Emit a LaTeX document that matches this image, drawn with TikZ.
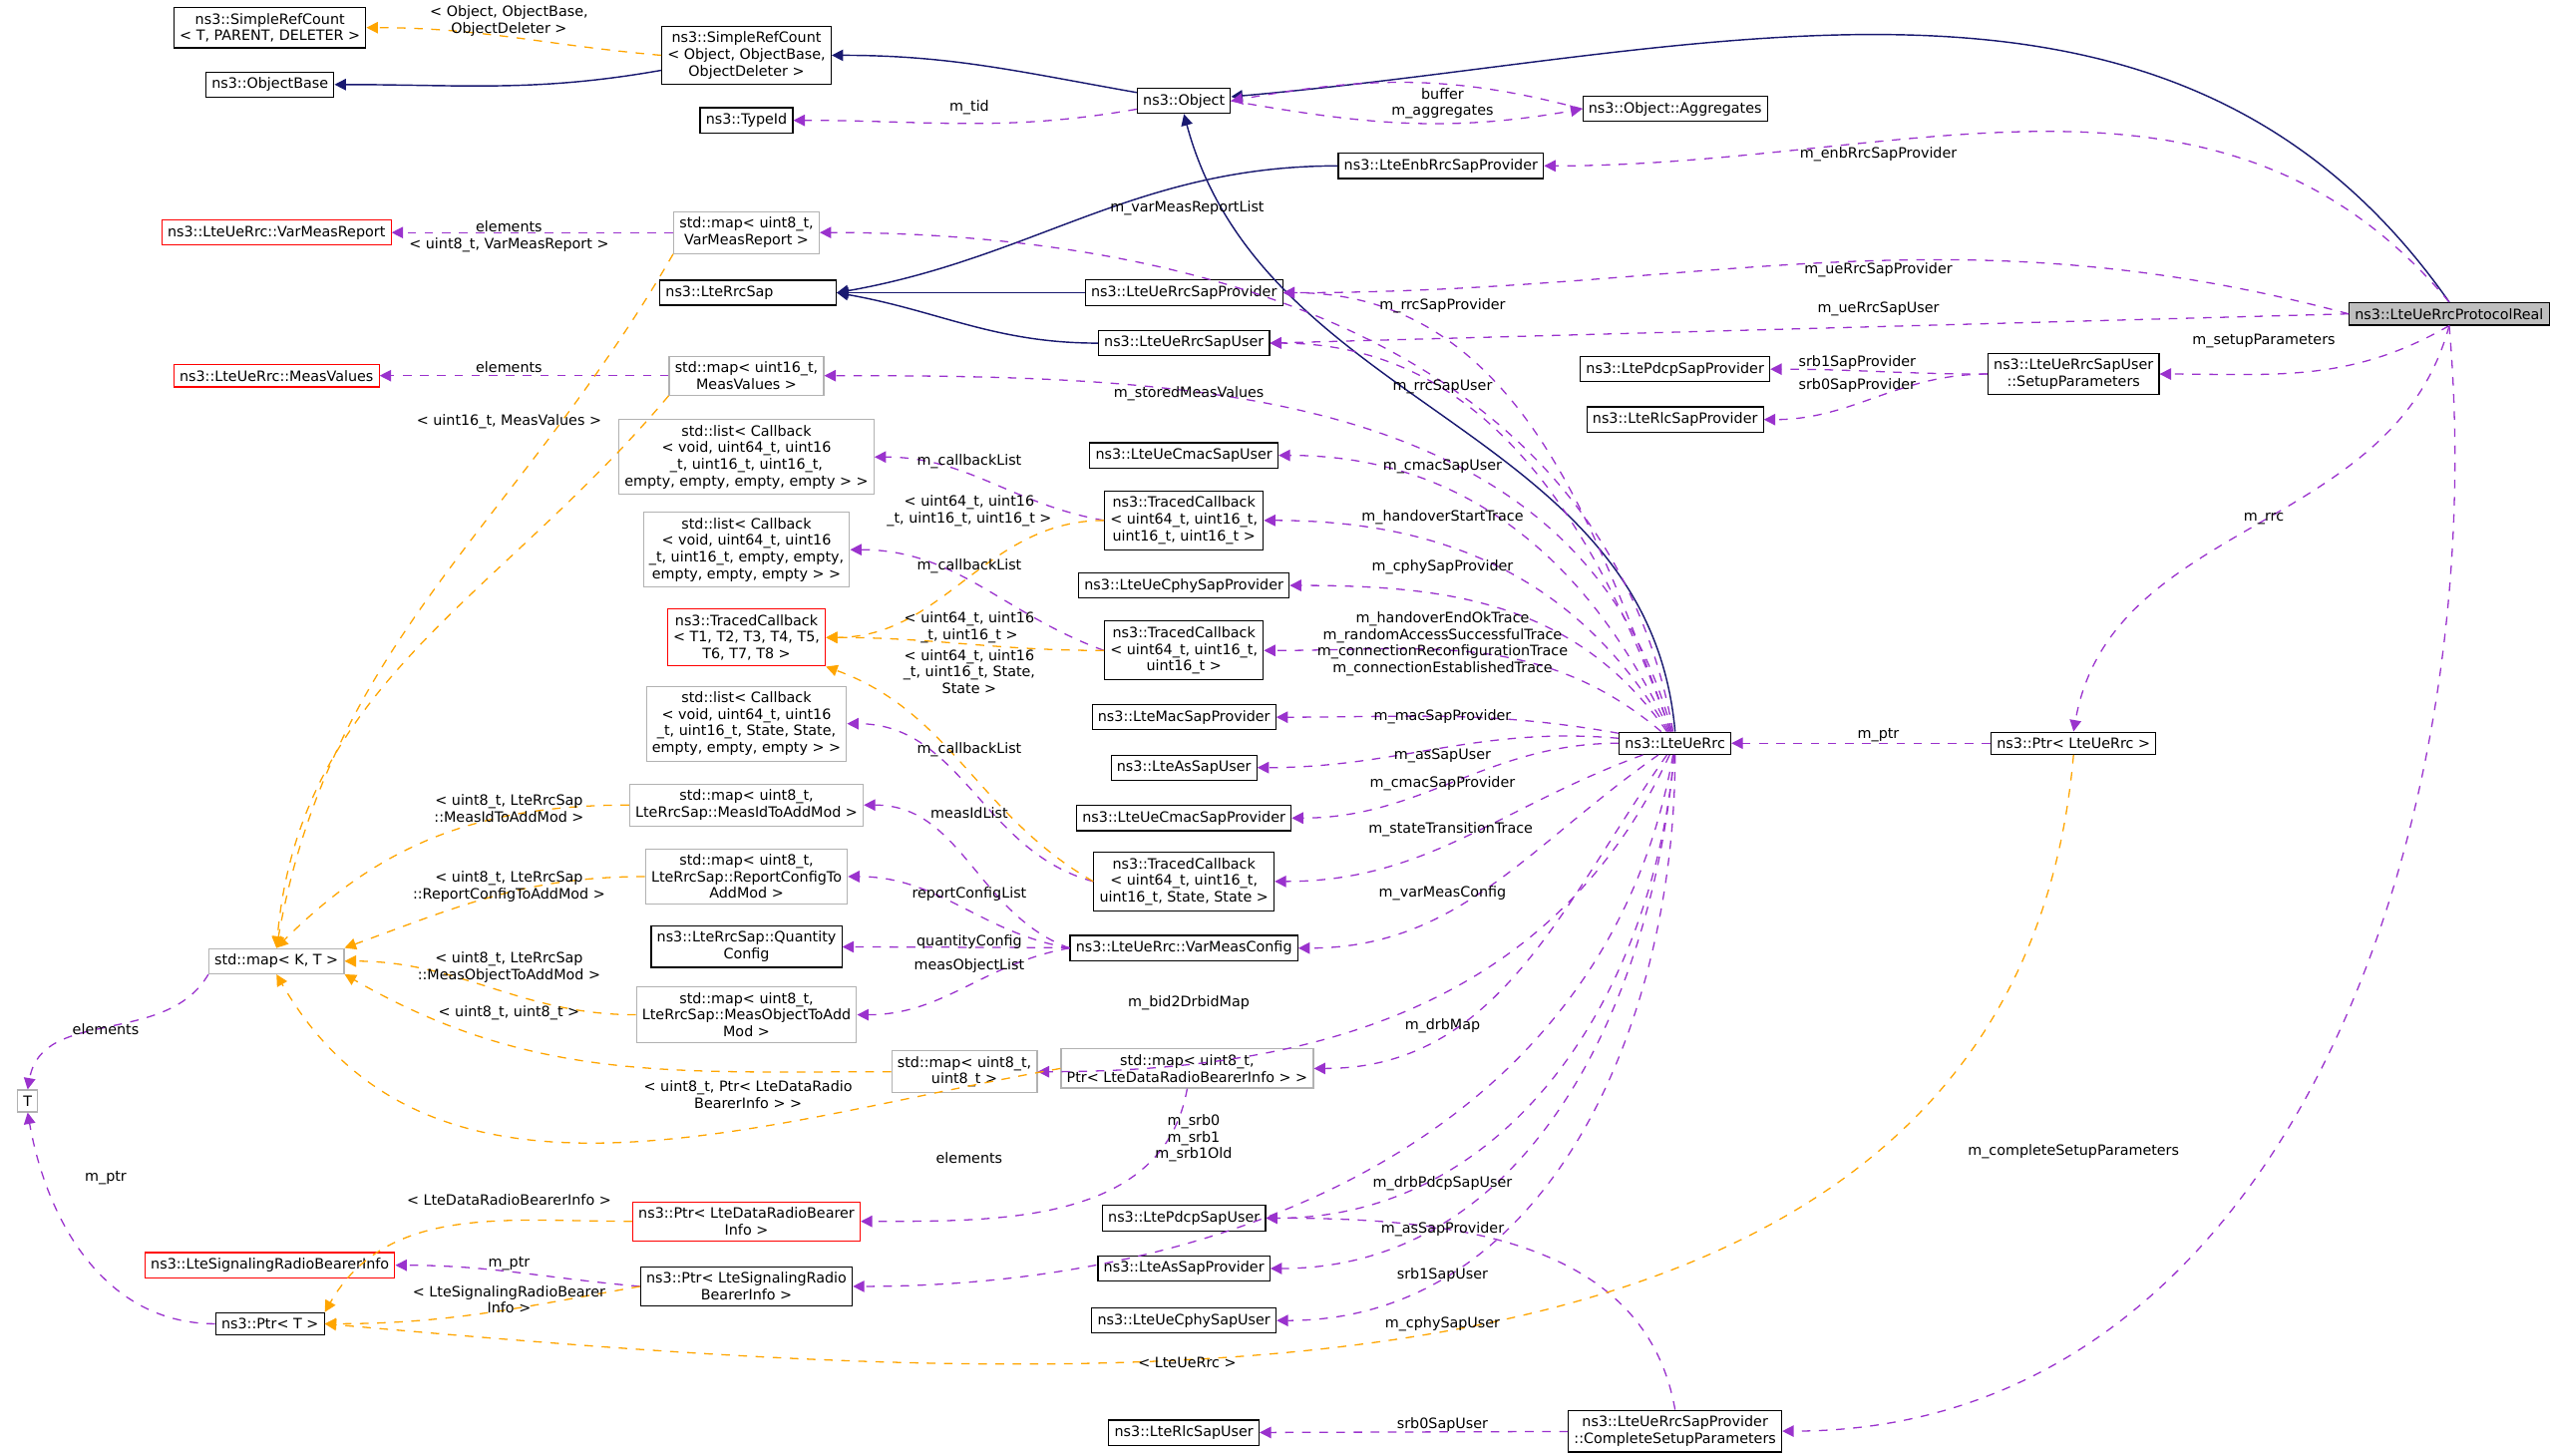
\documentclass[tikz,border=0pt]{standalone}
\usepackage{fontspec}
\setmainfont{DejaVu Sans}
\usetikzlibrary{arrows.meta}
\definecolor{inhcol}{HTML}{191970}
\definecolor{memcol}{HTML}{9A32CD}
\definecolor{tplcol}{HTML}{FFA500}
\tikzset{
  box/.style={draw=black, fill=white, inner sep=2pt, align=center, font=\fontsize{5}{5.8}\selectfont},
  gbox/.style={box, draw=black!30},
  rbox/.style={box, draw=red},
  lbl/.style={align=center, inner sep=0pt, font=\fontsize{5}{5.8}\selectfont},
  inh/.style={draw=inhcol, line width=0.5pt, -{Triangle[length=4pt,width=4pt]}},
  mem/.style={draw=memcol, dashed, line width=0.45pt, -{Triangle[length=4pt,width=4pt]}},
  tpl/.style={draw=tplcol, dashed, line width=0.45pt, -{Triangle[length=4pt,width=4pt]}},
}
\begin{document}
\begin{tikzpicture}[x=0.02cm, y=-0.02cm]
\useasboundingbox (0,0) rectangle (1568,895);

% classes
\node[box] (sref3) at (166,17) {ns3::SimpleRefCount\\< T, PARENT, DELETER >};
\node[box] (objbase) at (166,52) {ns3::ObjectBase};
\node[box] (sref) at (459,34) {ns3::SimpleRefCount\\< Object, ObjectBase,\\ ObjectDeleter >};
\node[box] (typeid) at (459,74) {ns3::TypeId};
\node[box] (object) at (728,62) {ns3::Object};
\node[box] (aggr) at (1030,67) {ns3::Object::Aggregates};
\node[box] (enbprov) at (886,102) {ns3::LteEnbRrcSapProvider};
\node[gbox] (mapvar) at (459,143) {std::map< uint8\_t,\\ VarMeasReport >};
\node[rbox] (varreport) at (170,143) {ns3::LteUeRrc::VarMeasReport};
\node[box] (rrcsap) at (460,180) {ns3::LteRrcSap\hspace{4em}};
\node[box] (ueprov) at (728,180) {ns3::LteUeRrcSapProvider};
\node[box] (ueuser) at (728,211) {ns3::LteUeRrcSapUser};
\node[box, fill=black!25] (real) at (1506,193) {ns3::LteUeRrcProtocolReal};
\node[box] (pdcpprov) at (1030,227) {ns3::LtePdcpSapProvider};
\node[box] (rlcprov) at (1030,258) {ns3::LteRlcSapProvider};
\node[box] (setup) at (1275,230) {ns3::LteUeRrcSapUser\\ ::SetupParameters};
\node[rbox] (measvalues) at (170,231) {ns3::LteUeRrc::MeasValues};
\node[gbox] (mapmv) at (459,231) {std::map< uint16\_t,\\ MeasValues >};
\node[gbox] (list1) at (459,281) {std::list< Callback\\< void, uint64\_t, uint16\\ \_t, uint16\_t, uint16\_t,\\ empty, empty, empty, empty > >};
\node[box] (cmacuser) at (728,280) {ns3::LteUeCmacSapUser};
\node[box] (tc1) at (728,320) {ns3::TracedCallback\\< uint64\_t, uint16\_t,\\ uint16\_t, uint16\_t >};
\node[gbox] (list2) at (459,338) {std::list< Callback\\< void, uint64\_t, uint16\\ \_t, uint16\_t, empty, empty,\\ empty, empty, empty > >};
\node[box] (cphyprov) at (728,360) {ns3::LteUeCphySapProvider};
\node[rbox] (tcT) at (459,392) {ns3::TracedCallback\\< T1, T2, T3, T4, T5,\\ T6, T7, T8 >};
\node[box] (tc2) at (728,400) {ns3::TracedCallback\\< uint64\_t, uint16\_t,\\ uint16\_t >};
\node[box] (macprov) at (728,441) {ns3::LteMacSapProvider};
\node[gbox] (list3) at (459,445) {std::list< Callback\\< void, uint64\_t, uint16\\ \_t, uint16\_t, State, State,\\ empty, empty, empty > >};
\node[box] (asuser) at (728,472) {ns3::LteAsSapUser};
\node[box] (uerrc) at (1030,457) {ns3::LteUeRrc};
\node[box] (ptrrrc) at (1275,457) {ns3::Ptr< LteUeRrc >};
\node[gbox] (mapmid) at (459,495) {std::map< uint8\_t,\\ LteRrcSap::MeasIdToAddMod >};
\node[box] (cmacprov) at (728,503) {ns3::LteUeCmacSapProvider};
\node[gbox] (maprc) at (459,539) {std::map< uint8\_t,\\ LteRrcSap::ReportConfigTo\\ AddMod >};
\node[box] (tc3) at (728,542) {ns3::TracedCallback\\< uint64\_t, uint16\_t,\\ uint16\_t, State, State >};
\node[box] (quantity) at (459,582) {ns3::LteRrcSap::Quantity\\ Config};
\node[box] (varconfig) at (728,583) {ns3::LteUeRrc::VarMeasConfig};
\node[gbox] (mapkt) at (170,591) {std::map< K, T >};
\node[gbox] (mapmo) at (459,624) {std::map< uint8\_t,\\ LteRrcSap::MeasObjectToAdd\\ Mod >};
\node[gbox] (mapbid) at (593,659) {std::map< uint8\_t,\\ uint8\_t >};
\node[gbox] (mapdrb) at (730,657) {std::map< uint8\_t,\\ Ptr< LteDataRadioBearerInfo > >};
\node[gbox] (T) at (17,677) {T};
\node[rbox] (ptrdrb) at (459,751) {ns3::Ptr< LteDataRadioBearer\\ Info >};
\node[rbox] (sigrbi) at (166,778) {ns3::LteSignalingRadioBearerInfo};
\node[box] (ptrsig) at (459,791) {ns3::Ptr< LteSignalingRadio\\ BearerInfo >};
\node[box] (ptrT) at (166,814) {ns3::Ptr< T >};
\node[box] (pdcpuser) at (728,749) {ns3::LtePdcpSapUser};
\node[box] (asprov) at (728,780) {ns3::LteAsSapProvider};
\node[box] (cphyuser) at (728,812) {ns3::LteUeCphySapUser};
\node[box] (rlcuser) at (728,881) {ns3::LteRlcSapUser};
\node[box] (complete) at (1030,880) {ns3::LteUeRrcSapProvider\\ ::CompleteSetupParameters};

% inheritance
\draw[inh] (sref) to[out=190,in=0] (objbase);
\draw[inh] (object) to[out=170,in=0] (sref);
\draw[inh] (real.north) to[out=125,in=5] (object);
\draw[inh] (uerrc.north) to[out=95,in=-75] (object.south);
\draw[inh] (enbprov.west) to[out=180,in=10] (rrcsap.east);
\draw[inh] (ueprov) -- (rrcsap);
\draw[inh] (ueuser.west) to[out=180,in=-10] (rrcsap.east);

% members of ns3::LteUeRrcProtocolReal and friends
\draw[mem] (object) to[out=190,in=0] (typeid);
\draw[mem] (aggr.west) to[out=165,in=10] (object.east);
\draw[mem] (object.east) to[out=-10,in=190] (aggr.west);
\draw[mem] (real.north) to[out=130,in=0] (enbprov);
\draw[mem] (real.west) to[out=165,in=0] (ueprov);
\draw[mem] (real.west) -- (ueuser.east);
\draw[mem] (real.south) to[out=-150,in=0] (setup);
\draw[mem] (setup) to[out=180,in=0] (pdcpprov);
\draw[mem] (setup) to[out=180,in=0] (rlcprov);
\draw[mem] (real.south) to[out=-105,in=80] (ptrrrc.north);
\draw[mem] (real.south) to[out=-85,in=0] (complete.east);
\draw[mem] (ptrrrc) -- (uerrc);
\draw[mem] (complete.north) to[out=100,in=0] (pdcpuser.east);
\draw[mem] (complete) -- (rlcuser);

% members of ns3::LteUeRrc
\foreach \dst/\ang in {mapvar/100, ueprov/110, ueuser/110, mapmv/105, cmacuser/115,
  tc1/120, cphyprov/125, tc2/140, macprov/170, asuser/175, cmacprov/180, tc3/-160,
  varconfig/-145, mapbid/-115, mapdrb/-125, ptrsig/-100, pdcpuser/-95, asprov/-95, cphyuser/-90}
  \draw[mem] (uerrc) to[out=\ang,in=0] (\dst.east);

% contained types
\draw[mem] (mapvar) -- (varreport);
\draw[mem] (mapmv) -- (measvalues);
\draw[mem] (tc1.west) to[out=170,in=0] (list1.east);
\draw[mem] (tc2.west) to[out=160,in=0] (list2.east);
\draw[mem] (tc3.west) to[out=165,in=0] (list3.east);
\draw[mem] (varconfig.west) to[out=160,in=0] (mapmid.east);
\draw[mem] (varconfig.west) to[out=170,in=0] (maprc.east);
\draw[mem] (varconfig) -- (quantity);
\draw[mem] (varconfig.west) to[out=190,in=0] (mapmo.east);
\draw[mem] (mapdrb.south) to[out=-100,in=0] (ptrdrb.east);
\draw[mem] (ptrsig.west) to[out=175,in=0] (sigrbi.east);
\draw[mem] (mapkt.south west) to[out=-120,in=80] (T.north);
\draw[mem] (ptrT.west) to[out=180,in=-80] (T.south);

% template instances
\draw[tpl] (sref.west) to[out=175,in=0] (sref3.east);
\draw[tpl] (mapvar.south west) to[out=-120,in=80] (mapkt.north);
\draw[tpl] (mapmv.south west) to[out=-130,in=85] (mapkt.north);
\draw[tpl] (tc1.west) to[out=180,in=0] (tcT.east);
\draw[tpl] (tc2.west) to[out=180,in=0] (tcT.east);
\draw[tpl] (tc3.west) to[out=150,in=-20] (tcT.south east);
\draw[tpl] (mapmid.west) to[out=180,in=45] (mapkt.north);
\draw[tpl] (maprc.west) to[out=180,in=20] (mapkt.north east);
\draw[tpl] (mapmo.west) to[out=180,in=0] (mapkt.east);
\draw[tpl] (mapbid.west) to[out=180,in=-30] (mapkt.south east);
\draw[tpl] (mapdrb.west) to[out=190,in=-60] (mapkt.south);
\draw[tpl] (ptrdrb.west) to[out=180,in=60] (ptrT.north east);
\draw[tpl] (ptrsig.west) to[out=190,in=0] (ptrT.east);
\draw[tpl] (ptrrrc.south) to[out=-95,in=-5] (ptrT.east);

% labels
\node[lbl] (lbuffer) at (887,58) {buffer};
\node[lbl] (laggr) at (887,69) {m\_aggregates};
\node[lbl] (ltid) at (596,66) {m\_tid};
\node[lbl] (lenb) at (1155,95) {m\_enbRrcSapProvider};
\node[lbl] (luep) at (1155,166) {m\_ueRrcSapProvider};
\node[lbl] (lueu) at (1155,190) {m\_ueRrcSapUser};
\node[lbl] (lsetup) at (1392,210) {m\_setupParameters};
\node[lbl] (lsrb1p) at (1142,223) {srb1SapProvider};
\node[lbl] (lsrb0p) at (1142,237) {srb0SapProvider};
\node[lbl] (lrrc) at (1392,319) {m\_rrc};
\node[lbl] (lptr) at (1155,452) {m\_ptr};
\node[lbl] (lcomplete) at (1275,708) {m\_completeSetupParameters};
\node[lbl] (lsrb1u) at (887,784) {srb1SapUser};
\node[lbl] (lsrb0u) at (887,876) {srb0SapUser};
\node[lbl] (lvarlist) at (730,128) {m\_varMeasReportList};
\node[lbl] (lrrcp) at (887,188) {m\_rrcSapProvider};
\node[lbl] (lrrcu) at (887,238) {m\_rrcSapUser};
\node[lbl] (lstored) at (731,242) {m\_storedMeasValues};
\node[lbl] (lcmacu) at (887,287) {m\_cmacSapUser};
\node[lbl] (lhst) at (887,318) {m\_handoverStartTrace};
\node[lbl] (lcphyp) at (887,349) {m\_cphySapProvider};
\node[lbl] (ltraces) at (887,396) {m\_handoverEndOkTrace\\ m\_randomAccessSuccessfulTrace\\ m\_connectionReconfigurationTrace\\ m\_connectionEstablishedTrace};
\node[lbl] (lmacp) at (887,441) {m\_macSapProvider};
\node[lbl] (lasu) at (887,465) {m\_asSapUser};
\node[lbl] (lcmacp) at (887,482) {m\_cmacSapProvider};
\node[lbl] (lstt) at (892,510) {m\_stateTransitionTrace};
\node[lbl] (lvmc) at (887,549) {m\_varMeasConfig};
\node[lbl] (lbid) at (731,617) {m\_bid2DrbidMap};
\node[lbl] (ldrb) at (887,631) {m\_drbMap};
\node[lbl] (lsrb) at (734,700) {m\_srb0\\ m\_srb1\\ m\_srb1Old};
\node[lbl] (ldrbp) at (887,728) {m\_drbPdcpSapUser};
\node[lbl] (lasp) at (887,756) {m\_asSapProvider};
\node[lbl] (lcphyu) at (887,814) {m\_cphySapUser};
\node[lbl] (lel1) at (313,139) {elements};
\node[lbl] (ltvar) at (313,151) {< uint8\_t, VarMeasReport >};
\node[lbl] (lel2) at (313,226) {elements};
\node[lbl] (ltmv) at (313,259) {< uint16\_t, MeasValues >};
\node[lbl] (lcb1) at (596,284) {m\_callbackList};
\node[lbl] (ltc1) at (596,314) {< uint64\_t, uint16\\ \_t, uint16\_t, uint16\_t >};
\node[lbl] (lcb2) at (596,348) {m\_callbackList};
\node[lbl] (ltc2) at (596,386) {< uint64\_t, uint16\\ \_t, uint16\_t >};
\node[lbl] (ltc3) at (596,413) {< uint64\_t, uint16\\ \_t, uint16\_t, State,\\ State >};
\node[lbl] (lcb3) at (596,461) {m\_callbackList};
\node[lbl] (lmid) at (596,500) {measIdList};
\node[lbl] (lrcl) at (596,550) {reportConfigList};
\node[lbl] (lqc) at (596,579) {quantityConfig};
\node[lbl] (lmol) at (596,594) {measObjectList};
\node[lbl] (ltmid) at (313,497) {< uint8\_t, LteRrcSap\\ ::MeasIdToAddMod >};
\node[lbl] (ltrc) at (313,545) {< uint8\_t, LteRrcSap\\ ::ReportConfigToAddMod >};
\node[lbl] (ltmo) at (313,595) {< uint8\_t, LteRrcSap\\ ::MeasObjectToAddMod >};
\node[lbl] (ltbid) at (313,623) {< uint8\_t, uint8\_t >};
\node[lbl] (ltdrb) at (460,673) {< uint8\_t, Ptr< LteDataRadio\\ BearerInfo > >};
\node[lbl] (lelT) at (65,633) {elements};
\node[lbl] (lptrT) at (65,724) {m\_ptr};
\node[lbl] (ltpd) at (313,738) {< LteDataRadioBearerInfo >};
\node[lbl] (lptrs) at (313,777) {m\_ptr};
\node[lbl] (ltps) at (313,799) {< LteSignalingRadioBearer\\ Info >};
\node[lbl] (leldrb) at (596,712) {elements};
\node[lbl] (ltrrc) at (730,838) {< LteUeRrc >};
\node[lbl] (ltsref) at (313,13) {< Object, ObjectBase,\\ ObjectDeleter >};
\end{tikzpicture}
\end{document}
